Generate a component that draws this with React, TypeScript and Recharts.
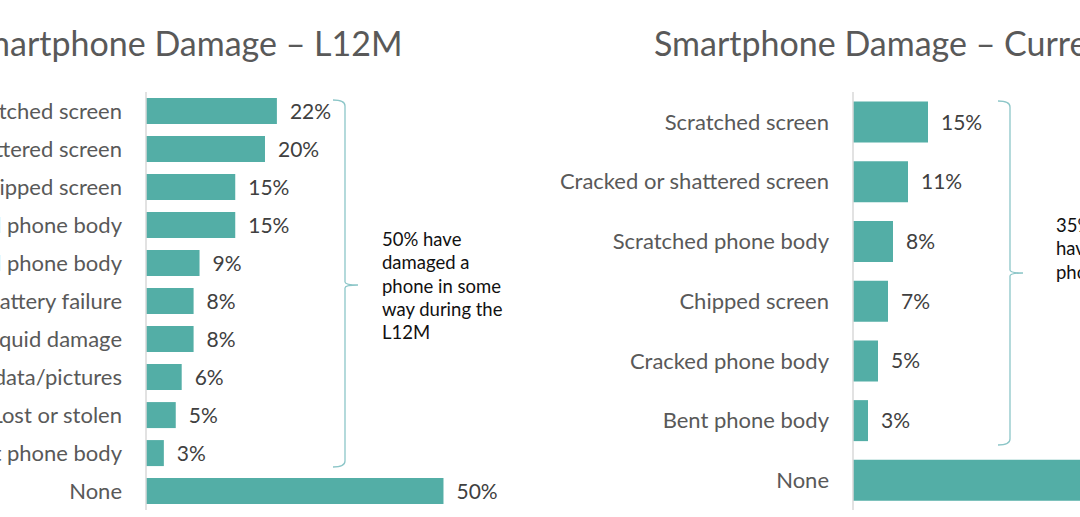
import React from 'react';
import { BarChart, Bar, XAxis, YAxis, LabelList } from 'recharts';

// L12M chart (left)
const l12mCategories = [
  'Scratched screen',
  'Cracked or shattered screen',
  'Chipped screen',
  'Scratched phone body',
  'Cracked phone body',
  'Battery failure',
  'Liquid damage',
  'Lost data/pictures',
  'Lost or stolen',
  'Bent phone body',
  'None',
];
const l12mValues = [22, 20, 15, 15, 9, 8, 8, 6, 5, 3, 50];

// Current chart (right)
const currentCategories = [
  'Scratched screen',
  'Cracked or shattered screen',
  'Scratched phone body',
  'Chipped screen',
  'Cracked phone body',
  'Bent phone body',
  'None',
];
const currentValues = [15, 11, 8, 7, 5, 3, 65];

const titles = ['Smartphone Damage \u2013 L12M', 'Smartphone Damage \u2013 Current'];
const l12mNote = ['50% have', 'damaged a', 'phone in some', 'way during the', 'L12M'];
const currentNote = ['35% have', 'have damaged a', 'phone'];

const BAR = '#53aea6';
const GREY = '#595959';
const FONT = 'Lato, "Open Sans", sans-serif';

const l12mData = l12mCategories.map((name, i) => ({ name, value: l12mValues[i] }));
const currentData = currentCategories.map((name, i) => ({ name, value: currentValues[i] }));

const pct = (v: number) => `${v}%`;

const DamageChart: React.FC<{
  data: { name: string; value: number }[];
  left: number;
  axisWidth: number;
  plotWidth: number;
  max: number;
}> = ({ data, left, axisWidth, plotWidth, max }) => (
  <div style={{ position: 'absolute', left, top: 0 }}>
    <BarChart
      width={axisWidth + plotWidth + 80}
      height={517}
      data={data}
      layout="vertical"
      margin={{ top: 92, right: 80, bottom: 7, left: 0 }}
      barCategoryGap="16%"
    >
      <XAxis type="number" domain={[0, max]} hide />
      <YAxis
        type="category"
        dataKey="name"
        width={axisWidth}
        tickLine={false}
        tickSize={0}
        tickMargin={24}
        axisLine={{ stroke: '#d9d9d9', strokeWidth: 1.5 }}
        tick={{ fill: GREY, fontSize: 22, fontFamily: FONT }}
        interval={0}
      />
      <Bar dataKey="value" fill={BAR} isAnimationActive={false}>
        <LabelList
          dataKey="value"
          position="right"
          offset={13}
          formatter={pct}
          style={{ fill: '#404040', fontSize: 21, fontFamily: FONT }}
        />
      </Bar>
    </BarChart>
  </div>
);

const Brace: React.FC<{ x: number; top: number; bottom: number; mid: number }> = ({ x, top, bottom, mid }) => (
  <path
    d={`M ${x - 12} ${top} Q ${x} ${top} ${x} ${top + 6} L ${x} ${mid - 3} Q ${x} ${mid} ${x + 13} ${mid} Q ${x} ${mid} ${x} ${mid + 3} L ${x} ${bottom - 6} Q ${x} ${bottom} ${x - 12} ${bottom}`}
    fill="none"
    stroke="#8cc6c8"
    strokeWidth={1.3}
  />
);

const Note: React.FC<{ lines: string[]; left: number; top: number }> = ({ lines, left, top }) => (
  <div
    style={{
      position: 'absolute',
      left,
      top,
      fontFamily: FONT,
      fontSize: 18.5,
      lineHeight: '23.3px',
      color: '#111',
      whiteSpace: 'nowrap',
    }}
  >
    {lines.map((l) => (
      <div key={l}>{l}</div>
    ))}
  </div>
);

export default function App() {
  return (
    <div
      style={{
        position: 'relative',
        width: 1080,
        height: 517,
        overflow: 'hidden',
        background: '#fff',
        fontFamily: FONT,
      }}
    >
      <style>{'body{margin:0}'}</style>
      <div style={{ position: 'absolute', left: -36, top: 22, fontSize: 34, color: GREY, whiteSpace: 'nowrap' }}>
        {titles[0]}
      </div>
      <div style={{ position: 'absolute', left: 654, top: 22, fontSize: 34, color: GREY, whiteSpace: 'nowrap' }}>
        {titles[1]}
      </div>

      <DamageChart data={l12mData} left={-254} axisWidth={400} plotWidth={354} max={59.5} />
      <DamageChart data={currentData} left={533} axisWidth={320} plotWidth={350} max={70} />

      <svg width={1080} height={517} style={{ position: 'absolute', left: 0, top: 0, pointerEvents: 'none' }}>
        <Brace x={345} top={100} bottom={467} mid={285} />
        <Brace x={1010} top={101} bottom={445} mid={273} />
      </svg>

      <Note lines={l12mNote} left={382} top={228} />
      <Note lines={currentNote} left={1056} top={214} />
    </div>
  );
}
